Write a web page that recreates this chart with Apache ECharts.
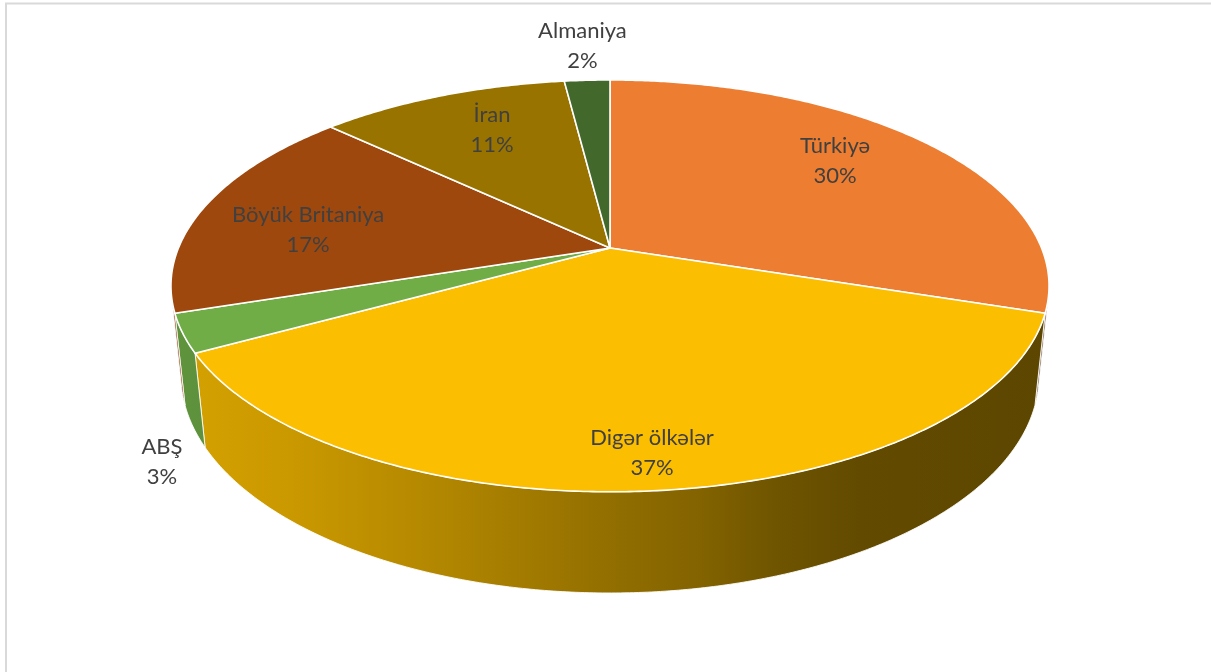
<!DOCTYPE html>
<html>
<head>
<meta charset="utf-8">
<script src="https://cdn.jsdelivr.net/npm/echarts@6/dist/echarts.min.js"></script>
<style>html,body{margin:0;padding:0;background:#fff}#c{width:1211px;height:672px}</style>
</head>
<body>
<div id="c"></div>
<script>
// ---- data ----
const categories = ['Türkiyə', 'Digər ölkələr', 'ABŞ', 'Böyük Britaniya', 'İran', 'Almaniya'];
const values = [30, 37, 3, 17, 11, 2];

// ---- style ----
const topColors = ['#ED7D31', '#FBBE00', '#70AD47', '#9E480E', '#997300', '#43682B'];
// label placement: radius fraction of the pie and vertical nudge (layout only)
const labelR = [0.693, 0.87, 1.045, 0.738, 0.668, 1.25];
const labelDy = [-12, 0, 125, 13, -11, 0];

// ---- 3D projection ----
const cx = 610, cy = 248, F = 2080, DIST = 4.82, SIN = 0.461, COS = 0.887, H = 0.236;
function proj(X, Y, Z) {
  const dep = DIST - Y * COS - Z * SIN;
  return [cx + F * X / dep, cy + F * (Y * SIN - Z * COS) / dep];
}
function pt(angDeg, r, Z) {
  const a = angDeg * Math.PI / 180;
  return proj(r * Math.sin(a), -r * Math.cos(a), Z);
}
const total = values.reduce((s, v) => s + v, 0);
const starts = [];
let acc = 0;
values.forEach(v => { starts.push(acc / total * 360); acc += v; });

const YMIN = 1 / (DIST * COS);
const visA0 = Math.acos(-YMIN) * 180 / Math.PI, visA1 = 360 - visA0;

function shade(hex, f) {
  const n = parseInt(hex.slice(1), 16);
  const r = Math.round(((n >> 16) & 255) * f), g = Math.round(((n >> 8) & 255) * f), b = Math.round((n & 255) * f);
  return 'rgb(' + r + ',' + g + ',' + b + ')';
}
const shadeStops = [[175, 0.85], [300, 0.80], [450, 0.70], [600, 0.59], [700, 0.52], [780, 0.44], [860, 0.39], [1050, 0.37]];
function sideFill(hex) {
  const x0 = 175, x1 = 1050;
  return new echarts.graphic.LinearGradient(x0, 0, x1, 0,
    shadeStops.map(s => ({ offset: (s[0] - x0) / (x1 - x0), color: shade(hex, s[1]) })), true);
}

function arc(a0, a1, Z) {
  const pts = [];
  const n = Math.max(2, Math.ceil((a1 - a0) / 0.5));
  for (let i = 0; i <= n; i++) pts.push(pt(a0 + (a1 - a0) * i / n, 1, Z));
  return pts;
}

function renderItem(params, api) {
  const i = params.dataIndex;
  const a0 = starts[i], a1 = starts[i] + api.value(0) / total * 360;
  const children = [];
  // visible outer side wall
  const s0 = Math.max(a0, visA0), s1 = Math.min(a1, visA1);
  if (s1 > s0) {
    const topArc = arc(s0, s1, 0);
    const botArc = arc(s0, s1, -H).reverse();
    children.push({
      type: 'polygon', z2: 1,
      shape: { points: topArc.concat(botArc) },
      style: { fill: sideFill(topColors[i]), stroke: 'rgba(255,255,255,0.85)', lineWidth: 1 }
    });
  }
  // top face
  children.push({
    type: 'polygon', z2: 2,
    shape: { points: [[cx, cy]].concat(arc(a0, a1, 0)) },
    style: { fill: topColors[i], stroke: '#fff', lineWidth: 1.6, lineJoin: 'round' }
  });
  // label
  const mid = (a0 + a1) / 2;
  const p = pt(mid, labelR[i], 0);
  children.push({
    type: 'text', z2: 10,
    style: {
      text: categories[i] + '\n' + api.value(0) + '%',
      x: p[0], y: p[1] + labelDy[i],
      fill: '#404040', font: '22px Lato', align: 'center', verticalAlign: 'middle', lineHeight: 30
    }
  });
  return { type: 'group', children: children };
}

const chart = echarts.init(document.getElementById('c'));
chart.setOption({
  animation: false,
  backgroundColor: '#fff',
  graphic: [{
    type: 'rect', shape: { x: 6, y: 3.5, width: 1400, height: 900 },
    style: { fill: 'none', stroke: '#D9D9D9', lineWidth: 2 }, silent: true
  }],
  series: [{
    type: 'custom',
    coordinateSystem: 'none',
    silent: true,
    data: values.map((v, i) => ({ name: categories[i], value: v })),
    renderItem: renderItem
  }]
});
</script>
</body>
</html>
